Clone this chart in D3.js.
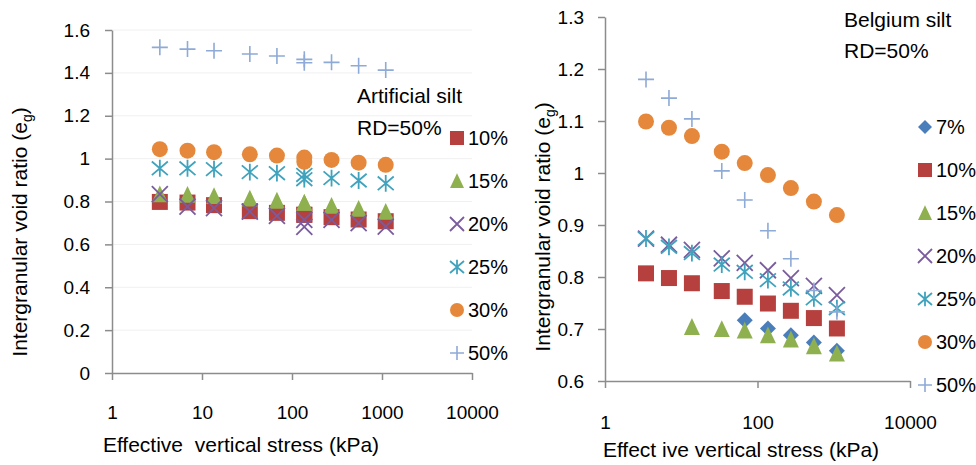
<!DOCTYPE html>
<html>
<head>
<meta charset="utf-8">
<script src="https://cdn.jsdelivr.net/npm/d3@7"></script>
<style>
  body { margin: 0; background: #fff; }
  text { font-family: "Liberation Sans Narrow", "Arial Narrow", "Liberation Sans", sans-serif; fill: #000; }
</style>
</head>
<body>
<div class="canvas"></div>
<script>
// ---- data ----
const stressLeft = [3.4, 6.9, 13.6, 34, 68, 137, 137, 275, 550, 1100];
const art10 = [0.798, 0.795, 0.783, 0.755, 0.747, 0.738, 0.738, 0.727, 0.716, 0.708];
const art15 = [0.834, 0.831, 0.826, 0.814, 0.804, 0.794, 0.794, 0.780, 0.766, 0.752];
const art20 = [0.834, 0.776, 0.769, 0.753, 0.733, 0.714, 0.682, 0.714, 0.699, 0.683];
const art25 = [0.955, 0.955, 0.951, 0.937, 0.932, 0.924, 0.904, 0.909, 0.898, 0.885];
const art30 = [1.044, 1.037, 1.030, 1.020, 1.014, 1.005, 0.985, 0.994, 0.981, 0.971];
const art50 = [1.519, 1.511, 1.503, 1.488, 1.479, 1.463, 1.447, 1.449, 1.433, 1.413];

const stressRight = [3.45, 6.9, 13.8, 34, 68, 137, 274, 549, 1100];
const bel7 = [null, null, null, null, 0.717, 0.701, 0.688, 0.674, 0.658];
const bel10 = [0.807, 0.798, 0.788, 0.773, 0.762, 0.749, 0.735, 0.721, 0.701];
const bel15 = [null, null, 0.704, 0.700, 0.697, 0.688, 0.680, 0.667, 0.653];
const bel20 = [0.874, 0.862, 0.852, 0.836, 0.827, 0.813, 0.798, 0.783, 0.765];
const bel25 = [0.874, 0.858, 0.846, 0.824, 0.810, 0.794, 0.778, 0.759, 0.740];
const bel30 = [1.099, 1.087, 1.071, 1.041, 1.019, 0.996, 0.971, 0.945, 0.919];
const bel50 = [1.180, 1.144, 1.104, 1.004, 0.948, 0.889, 0.835, 0.774, 0.733];

const leftTicksX = [1, 10, 100, 1000, 10000];
const rightTicksX = [1, 100, 10000];
const leftTicksY = [0, 0.2, 0.4, 0.6, 0.8, 1, 1.2, 1.4, 1.6];
const rightTicksY = [0.6, 0.7, 0.8, 0.9, 1, 1.1, 1.2, 1.3];

// marker styles
const styles = {
  "7%":  { shape: "diamond", colour: "#4a7ebb" },
  "10%": { shape: "square", colour: "#b5403e" },
  "15%": { shape: "triangle", colour: "#8fb04e" },
  "20%": { shape: "x", colour: "#7a5c9e" },
  "25%": { shape: "star", colour: "#3fa3bd" },
  "30%": { shape: "circle", colour: "#e5883b" },
  "50%": { shape: "plus", colour: "#8eaad6" }
};

const leftSeries = [
  { name: "10%", values: art10 }, { name: "15%", values: art15 },
  { name: "20%", values: art20 }, { name: "25%", values: art25 },
  { name: "30%", values: art30 }, { name: "50%", values: art50 }
];
const rightSeries = [
  { name: "7%", values: bel7 }, { name: "10%", values: bel10 },
  { name: "15%", values: bel15 }, { name: "20%", values: bel20 },
  { name: "25%", values: bel25 }, { name: "30%", values: bel30 },
  { name: "50%", values: bel50 }
];

const svg = d3.select(".canvas").append("svg")
  .attr("width", 976).attr("height", 465);

// marker paths, r = half width
const markerPath = (shape, r) => {
  switch (shape) {
    case "square": return `M${-r},${-r}H${r}V${r}H${-r}Z`;
    case "diamond": return `M0,${-r}L${r},0L0,${r}L${-r},0Z`;
    case "triangle": return `M0,${-r * 1.1}L${r},${r}L${-r},${r}Z`;
    case "circle": return d3.arc()({ innerRadius: 0, outerRadius: r, startAngle: 0, endAngle: 2 * Math.PI });
    case "x": return `M${-r},${-r}L${r},${r}M${r},${-r}L${-r},${r}`;
    case "star": return `M${-r},${-r * 0.85}L${r},${r * 0.85}M${r},${-r * 0.85}L${-r},${r * 0.85}M0,${-r * 1.05}V${r * 1.05}`;
    case "plus": return `M${-r},0H${r}M0,${-r}V${r}`;
  }
};
const isStroke = (shape) => shape === "x" || shape === "star" || shape === "plus";

const drawMarker = (g, name, r) => {
  const st = styles[name];
  const p = g.append("path").attr("d", markerPath(st.shape, r));
  if (isStroke(st.shape)) {
    p.attr("fill", "none").attr("stroke", st.colour)
      .attr("stroke-width", st.shape === "plus" ? 1.6 : 1.8);
  } else {
    p.attr("fill", st.colour);
  }
};

const styleAxis = (g) => {
  g.selectAll(".domain").attr("stroke", "#8c8c8c").attr("stroke-width", 1.5);
  g.selectAll(".tick line").attr("stroke", "#8c8c8c").attr("stroke-width", 1.5);
  g.selectAll("text").attr("font-size", 19).attr("fill", "#000");
};

const fmt = (d) => String(d);

// build one panel
const panel = (cfg) => {
  const x = d3.scaleLog().domain([1, 10000]).range(cfg.xRange);
  const y = d3.scaleLinear().domain(cfg.yDomain).range(cfg.yRange);

  if (cfg.grid) {
    svg.append("g").selectAll("line")
      .data(cfg.yTicks.slice(1)).join("line")
      .attr("x1", cfg.xRange[0]).attr("x2", cfg.xRange[1])
      .attr("y1", (d) => y(d)).attr("y2", (d) => y(d))
      .attr("stroke", "#f0f0f0").attr("stroke-width", 1);
  }

  const xAxis = svg.append("g")
    .attr("transform", `translate(0, ${cfg.yRange[0]})`)
    .call(d3.axisBottom(x).tickValues(cfg.xTicks).tickFormat(fmt)
      .tickSize(7).tickSizeOuter(0).tickPadding(cfg.xPad));
  styleAxis(xAxis);

  const yAxis = svg.append("g")
    .attr("transform", `translate(${cfg.xRange[0]}, 0)`)
    .call(d3.axisLeft(y).tickValues(cfg.yTicks).tickFormat(fmt)
      .tickSize(7).tickSizeOuter(0).tickPadding(cfg.yPad));
  styleAxis(yAxis);

  // points
  cfg.series.forEach((s) => {
    const pts = s.values.map((v, i) => ({ x: cfg.stress[i], v: v })).filter((d) => d.v !== null);
    const g = svg.append("g");
    pts.forEach((d) => {
      const m = g.append("g").attr("transform", `translate(${x(d.x)}, ${y(d.v)})`);
      drawMarker(m, s.name, 8);
    });
  });

  // titles
  svg.append("text").attr("x", cfg.title[0]).attr("y", cfg.title[1])
    .attr("font-size", 21).text(cfg.titleText);
  svg.append("text").attr("x", cfg.title[0]).attr("y", cfg.title[1] + cfg.titleGap)
    .attr("font-size", 21).text("RD=50%");

  // legend
  const legend = svg.append("g");
  cfg.series.forEach((s, i) => {
    const ly = cfg.legend[1] + i * 43;
    const m = legend.append("g").attr("transform", `translate(${cfg.legend[0]}, ${ly})`);
    drawMarker(m, s.name, 7);
    legend.append("text").attr("x", cfg.legend[0] + 11).attr("y", ly + 7)
      .attr("font-size", 20).text(s.name);
  });

  // axis labels
  svg.append("text")
    .attr("x", cfg.xLabel[0]).attr("y", cfg.xLabel[1])
    .attr("text-anchor", "middle").attr("font-size", 21)
    .style("white-space", "pre")
    .text(cfg.xLabelText);

  const yl = svg.append("text")
    .attr("transform", `translate(${cfg.yLabel[0]}, ${cfg.yLabel[1]}) rotate(-90)`)
    .attr("text-anchor", "middle").attr("font-size", 21);
  yl.append("tspan").text("Intergranular void ratio (e");
  yl.append("tspan").attr("font-size", 14).attr("dy", 5).text("g");
  yl.append("tspan").attr("dy", -5).text(")");
};

panel({
  xRange: [112, 472], yRange: [373, 30], yDomain: [0, 1.6],
  xTicks: leftTicksX, yTicks: leftTicksY, grid: true,
  xPad: 26, yPad: 15, stress: stressLeft, series: leftSeries,
  title: [357, 103], titleGap: 32, titleText: "Artificial silt",
  legend: [457, 138],
  xLabel: [241, 452], xLabelText: "Effective  vertical stress (kPa)",
  yLabel: [27, 232]
});

panel({
  xRange: [605, 910], yRange: [381, 17], yDomain: [0.6, 1.3],
  xTicks: rightTicksX, yTicks: rightTicksY, grid: false,
  xPad: 28, yPad: 14, stress: stressRight, series: rightSeries,
  title: [844, 27], titleGap: 31, titleText: "Belgium silt",
  legend: [925, 127],
  xLabel: [741, 457], xLabelText: "Effect ive vertical stress (kPa)",
  yLabel: [550, 227]
});
</script>
</body>
</html>
